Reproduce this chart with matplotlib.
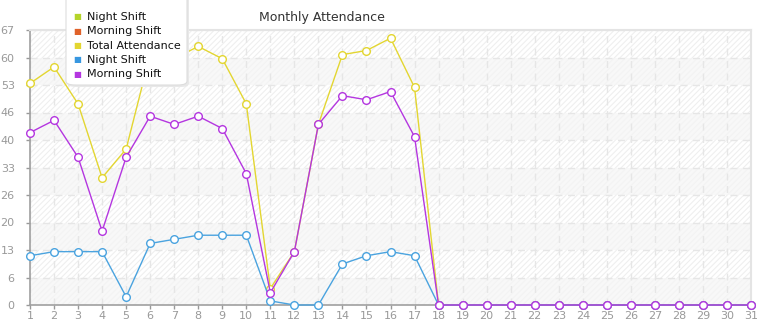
import matplotlib
matplotlib.use('Agg')
import matplotlib.pyplot as plt
from matplotlib.patches import FancyBboxPatch

plt.rcParams['font.family'] = ['DejaVu Sans']
plt.rcParams['hatch.linewidth'] = 0.8

days = list(range(1, 32))
# series (days 1..31)
total = [54, 58, 49, 31, 38, 61, 60, 63, 60, 49, 4, 13, 44, 61, 62, 65, 53] + [0] * 14
night = [12, 13, 13, 13, 2, 15, 16, 17, 17, 17, 1, 0, 0, 10, 12, 13, 12] + [0] * 14
morning = [42, 45, 36, 18, 36, 46, 44, 46, 43, 32, 3, 13, 44, 51, 50, 52, 41] + [0] * 14
yticks = [0, 6.7, 13.4, 20.1, 26.8, 33.5, 40.2, 46.9, 53.6, 60.3, 67]
ytick_labels = ['0', '6', '13', '20', '26', '33', '40', '46', '53', '60', '67']
legend_names = ['Night Shift', 'Morning Shift', 'Total Attendance', 'Night Shift', 'Morning Shift']
legend_colors = ['#b5d42a', '#e0622a', '#e3d631', '#3797e0', '#b436e0']

fig = plt.figure(figsize=(7.65, 3.2), dpi=100)
ax = fig.add_axes([30 / 765, 15 / 320, 721 / 765, 275 / 320])
ax.set_xlim(1, 31)
ax.set_ylim(0, 67)

# alternating background bands
for i in range(len(yticks) - 1):
    if i % 2 == 1:
        ax.axhspan(yticks[i], yticks[i + 1], facecolor='white', hatch='//////', edgecolor='#efefef', lw=0, zorder=0)
    else:
        ax.axhspan(yticks[i], yticks[i + 1], facecolor='#f8f8f8', hatch='//////', edgecolor='#f3f3f3', lw=0, zorder=0)

ax.set_yticks(yticks)
ax.set_yticklabels(ytick_labels)
ax.set_xticks(days)
ax.grid(True, color='#e6e6e6', ls=(0, (5, 4)), lw=1, zorder=1)
ax.set_axisbelow(True)

for s in ['top', 'right']:
    ax.spines[s].set_color('#e4e4e4')
    ax.spines[s].set_linewidth(1.5)
for s in ['left', 'bottom']:
    ax.spines[s].set_color('#a0a0a0')
    ax.spines[s].set_linewidth(1.2)
ax.tick_params(colors='#999999', labelsize=8, length=3, width=1, pad=1)
ax.tick_params(axis='y', length=3, pad=8)

mk = dict(marker='o', ms=5.5, mfc='white', mew=1, lw=1, clip_on=False, zorder=3)
ax.plot(days, total, color=legend_colors[2], **mk)
ax.plot(days, night, color='#4aa3df', **mk)
ax.plot(days, morning, color=legend_colors[4], **mk)

fig.text(322 / 765, 1 - 17 / 320, 'Monthly Attendance', ha='center', va='center',
         fontsize=9, color='#333333')

# legend box
box = FancyBboxPatch((66 / 765, 1 - 85 / 320), 121 / 765, 95 / 320,
                     boxstyle='round,pad=0,rounding_size=0.012', transform=fig.transFigure,
                     facecolor='white', edgecolor='#dddddd', lw=0.8, zorder=5)
shadow = FancyBboxPatch((68 / 765, 1 - 87 / 320), 121 / 765, 95 / 320,
                        boxstyle='round,pad=0,rounding_size=0.012', transform=fig.transFigure,
                        facecolor='#e8e8e8', edgecolor='none', zorder=4)
fig.patches.extend([shadow, box])
for i, (name, c) in enumerate(zip(legend_names, legend_colors)):
    y = 1 - (17 + i * 14.3) / 320
    fig.text(77 / 765, y, '\u25a0', color=c, fontsize=6, ha='center', va='center', zorder=6)
    fig.text(87 / 765, y, name, color='#111111', fontsize=8, ha='left', va='center', zorder=6)

fig.savefig('out.png', dpi=100)
